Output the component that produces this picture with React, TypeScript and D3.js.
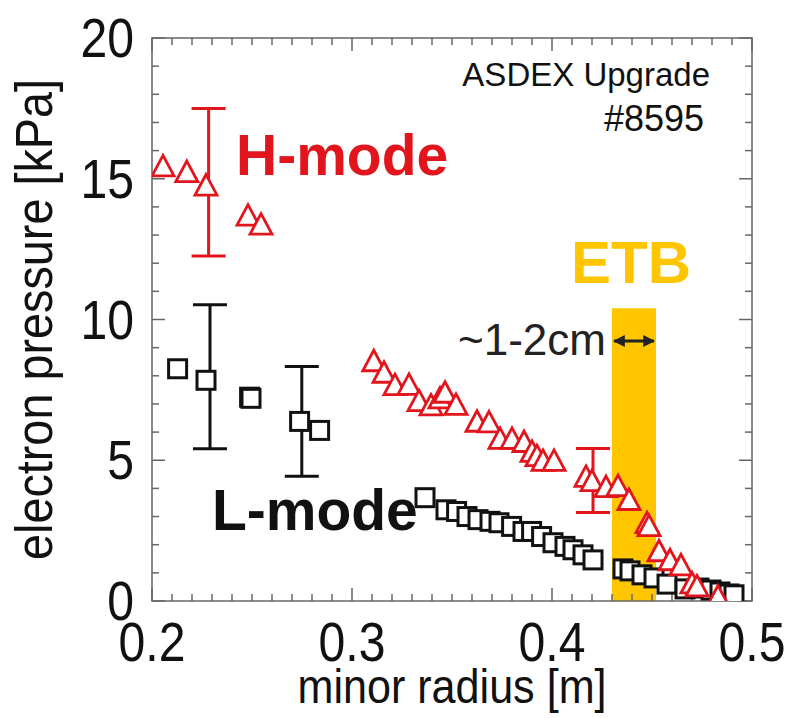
import * as d3 from 'd3'

const W = 789, H = 718
const margin = { left: 152, right: 37, top: 38, bottom: 117 }

// H-mode (red triangles)
const hModeR = [0.2055, 0.2174, 0.227, 0.248, 0.2545, 0.3109, 0.316, 0.3215, 0.3285, 0.3335, 0.3395, 0.344, 0.3465, 0.352, 0.3625, 0.3685, 0.374, 0.38, 0.386, 0.39, 0.3925, 0.3955, 0.401, 0.417, 0.42, 0.427, 0.433, 0.4385, 0.4475, 0.4485, 0.4535, 0.459, 0.4645, 0.47, 0.4725, 0.483]
const hModeP = [15.42, 15.22, 14.74, 13.67, 13.35, 8.5, 8.09, 7.65, 7.66, 7.08, 6.93, 7.18, 7.38, 6.95, 6.35, 6.33, 5.74, 5.74, 5.63, 5.28, 5.13, 4.96, 4.96, 4.39, 4.24, 4.03, 4.06, 3.57, 2.75, 2.64, 1.75, 1.43, 1.25, 0.61, 0.5, 0.14]

// L-mode (black squares)
const lModeR = [0.2128, 0.227, 0.2488, 0.2495, 0.2738, 0.2838, 0.3365, 0.347, 0.3523, 0.3575, 0.363, 0.369, 0.3735, 0.3798, 0.3855, 0.3898, 0.3948, 0.4005, 0.4065, 0.4105, 0.4155, 0.4205, 0.4355, 0.439, 0.445, 0.451, 0.4575, 0.4665, 0.4735, 0.4795, 0.484, 0.4885, 0.491]
const lModeP = [8.25, 7.84, 7.24, 7.2, 6.38, 6.06, 3.67, 3.24, 3.18, 3.0, 2.89, 2.83, 2.78, 2.65, 2.47, 2.47, 2.29, 2.07, 1.94, 1.82, 1.64, 1.46, 1.14, 1.07, 0.93, 0.82, 0.6, 0.43, 0.46, 0.39, 0.32, 0.25, 0.22]

// error bars
const errR = [0.2283, 0.229, 0.2749, 0.4205]
const errLo = [12.26, 5.41, 4.43, 3.14]
const errHi = [17.5, 10.52, 8.33, 5.42]
const errMode = ['H', 'L', 'L', 'H']

// edge transport barrier band
const etbR = [0.43, 0.452]
const etbTop = 10.4

const xTickLabels = [0.2, 0.3, 0.4, 0.5]
const yTickLabels = [0, 5, 10, 15, 20]

const red = '#e2141c', yellow = '#ffc600', axisCol = '#666'

const x = d3.scaleLinear().domain([0.2, 0.5]).range([margin.left, W - margin.right])
const y = d3.scaleLinear().domain([0, 20]).range([H - margin.bottom, margin.top])

const tri = 'M0,-11.5L11,9L-11,9Z'

export default function App() {
  const x0 = x.range()[0], x1 = x.range()[1]
  const y0 = y.range()[0], y1 = y.range()[1]
  const xMinor = x.ticks(30)
  const yMinor = y.ticks(20)
  const isMajorX = (v: number) => Math.abs(v * 10 - Math.round(v * 10)) < 1e-6
  const lab = { fontFamily: '"Liberation Sans", Arial, sans-serif' }

  return (
    <svg width={W} height={H} style={{ position: 'absolute', left: 0, top: 0, background: '#fff' }}>
      <defs>
        <clipPath id='plot'><rect x={x0} y={y1} width={x1 - x0} height={y0 - y1} /></clipPath>
        <marker id='ah' viewBox='0 0 10 10' refX='9' refY='5' markerWidth='4' markerHeight='4' orient='auto-start-reverse'>
          <path d='M0,0L10,5L0,10Z' fill='#222' />
        </marker>
      </defs>

      <rect x={x(etbR[0])} y={y(etbTop)} width={x(etbR[1]) - x(etbR[0])} height={y(0) - y(etbTop)} fill={yellow} />

      {/* ticks, inward on all four sides */}
      <g stroke={axisCol} strokeWidth='1.5'>
        {xMinor.map((v, i) => {
          const l = isMajorX(v) ? 13 : 7
          return <g key={'xt' + i}>
            <line x1={x(v)} x2={x(v)} y1={y0} y2={y0 - l} />
            <line x1={x(v)} x2={x(v)} y1={y1} y2={y1 + l} />
          </g>
        })}
        {yMinor.map((v, i) => {
          const l = v % 5 === 0 ? 13 : 7
          return <g key={'yt' + i}>
            <line x1={x0} x2={x0 + l} y1={y(v)} y2={y(v)} />
            <line x1={x1} x2={x1 - l} y1={y(v)} y2={y(v)} />
          </g>
        })}
      </g>
      <rect x={x0} y={y1} width={x1 - x0} height={y0 - y1} fill='none' stroke={axisCol} strokeWidth='1.5' />

      <g clipPath='url(#plot)'>
        {errR.map((r, i) => {
          const c = errMode[i] === 'H' ? red : '#111'
          return <g key={'e' + i} stroke={c} strokeWidth='3'>
            <line x1={x(r)} x2={x(r)} y1={y(errLo[i])} y2={y(errHi[i])} />
            <line x1={x(r) - 17} x2={x(r) + 17} y1={y(errLo[i])} y2={y(errLo[i])} />
            <line x1={x(r) - 17} x2={x(r) + 17} y1={y(errHi[i])} y2={y(errHi[i])} />
          </g>
        })}
        {lModeR.map((r, i) =>
          <rect key={'s' + i} x={x(r) - 9} y={y(lModeP[i]) - 9} width='18' height='18' fill='#fff' stroke='#111' strokeWidth='3' />
        )}
        {hModeR.map((r, i) =>
          <path key={'t' + i} d={tri} transform={`translate(${x(r)},${y(hModeP[i])})`} fill='#fff' stroke={red} strokeWidth='2.8' strokeLinejoin='miter' />
        )}
      </g>

      {/* tick labels */}
      <g style={lab} fontSize='56' fill='#111'>
        {xTickLabels.map(v =>
          <text key={'xl' + v} transform={`translate(${x(v)},${y0 + 60}) scale(0.86,1)`} textAnchor='middle'>{v.toFixed(1)}</text>
        )}
        {yTickLabels.map(v =>
          <text key={'yl' + v} transform={`translate(${x0 - 18},${y(v) + 19}) scale(0.86,1)`} textAnchor='end'>{v}</text>
        )}
      </g>

      <text style={lab} fontSize='49' fill='#111' textAnchor='middle' transform={`translate(${(x0 + x1) / 2},703) scale(0.88,1)`}>minor radius [m]</text>
      <text style={lab} fontSize='52' fill='#111' textAnchor='middle' transform={`translate(52,${(y0 + y1) / 2}) rotate(-90) scale(0.9,1)`}>electron pressure [kPa]</text>

      <text style={lab} fontSize='33' fill='#111' x='710' y='86' textAnchor='end'>ASDEX Upgrade</text>
      <text style={lab} fontSize='36' fill='#111' x='704' y='131' textAnchor='end'>#8595</text>

      <text style={lab} fontSize='57' fontWeight='bold' fill={red} x='236' y='175'>H-mode</text>
      <text style={lab} fontSize='57' fontWeight='bold' fill='#111' x='212' y='530'>L-mode</text>
      <text style={lab} fontSize='60' fontWeight='bold' fill={yellow} x='571' y='283'>ETB</text>

      <text style={lab} fontSize='44' fill='#222' x='606' y='355' textAnchor='end'>~1-2cm</text>
      <line x1={x(etbR[0]) + 2} x2={x(etbR[1]) - 2} y1='341' y2='341' stroke='#222' strokeWidth='3' markerStart='url(#ah)' markerEnd='url(#ah)' />
    </svg>
  )
}
